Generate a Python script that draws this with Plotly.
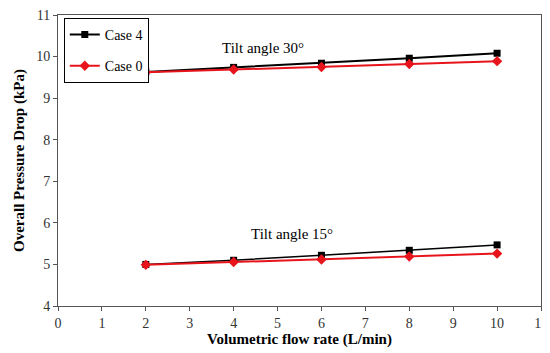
import plotly.graph_objects as go

flow = [2, 4, 6, 8, 10]
case4_30 = [9.63, 9.74, 9.84, 9.96, 10.08]
case0_30 = [9.62, 9.69, 9.75, 9.82, 9.89]
case4_15 = [5.00, 5.10, 5.22, 5.34, 5.47]
case0_15 = [4.99, 5.06, 5.12, 5.19, 5.26]

x_ticks = list(range(0, 12))
y_ticks = list(range(4, 12))

FONT = "Liberation Serif, Times New Roman, serif"

fig = go.Figure()
c4 = dict(color="black", width=2)
c0 = dict(color="#e8141b", width=2)
fig.add_trace(go.Scatter(x=flow, y=case4_30, mode="lines+markers", name="Case 4",
                         legendgroup="c4", line=c4,
                         marker=dict(symbol="square", size=7, color="black")))
fig.add_trace(go.Scatter(x=flow, y=case0_30, mode="lines+markers", name="Case 0",
                         legendgroup="c0", line=c0,
                         marker=dict(symbol="diamond", size=8, color="#e8141b")))
fig.add_trace(go.Scatter(x=flow, y=case4_15, mode="lines+markers", name="Case 4",
                         legendgroup="c4", showlegend=False, line=dict(color="black", width=1.5),
                         marker=dict(symbol="square", size=7, color="black")))
fig.add_trace(go.Scatter(x=flow, y=case0_15, mode="lines+markers", name="Case 0",
                         legendgroup="c0", showlegend=False, line=c0,
                         marker=dict(symbol="diamond", size=8, color="#e8141b")))

fig.add_annotation(x=4.66, y=10.2, text="Tilt angle 30°", showarrow=False,
                   font=dict(family=FONT, size=15, color="black"))
fig.add_annotation(x=5.34, y=5.73, text="Tilt angle 15°", showarrow=False,
                   font=dict(family=FONT, size=15, color="black"))

axis_common = dict(showgrid=False, zeroline=False, showline=True, linecolor="#555",
                   linewidth=1, mirror=True, ticks="outside", ticklen=4, tickcolor="#555",
                   automargin=False, ticklabeloverflow="allow",
                   tickfont=dict(family=FONT, size=14, color="#333"))
fig.update_xaxes(range=[0, 11], tickvals=x_ticks, ticktext=[str(v) for v in x_ticks],
                 title=dict(text="<b>Volumetric flow rate (L/min)</b>", standoff=2,
                            font=dict(family=FONT, size=15, color="black")),
                 **axis_common)
fig.update_yaxes(range=[4, 11], tickvals=y_ticks, ticktext=[str(v) for v in y_ticks],
                 title=dict(text="<b>Overall Pressure Drop (kPa)</b>", standoff=7,
                            font=dict(family=FONT, size=15, color="black")),
                 **axis_common)

# the page puts the figure 8px in from the top-left, so the figure is sized to fit
fig.update_layout(
    width=542, height=345,
    margin=dict(l=50, r=9, t=7, b=47),
    paper_bgcolor="white", plot_bgcolor="white",
    showlegend=True,
    legend=dict(x=0.012, y=0.99, xanchor="left", yanchor="top",
                bordercolor="black", borderwidth=1, bgcolor="white",
                font=dict(family=FONT, size=14, color="black"),
                tracegroupgap=10, itemwidth=30),
)

fig.write_html("out.html")
